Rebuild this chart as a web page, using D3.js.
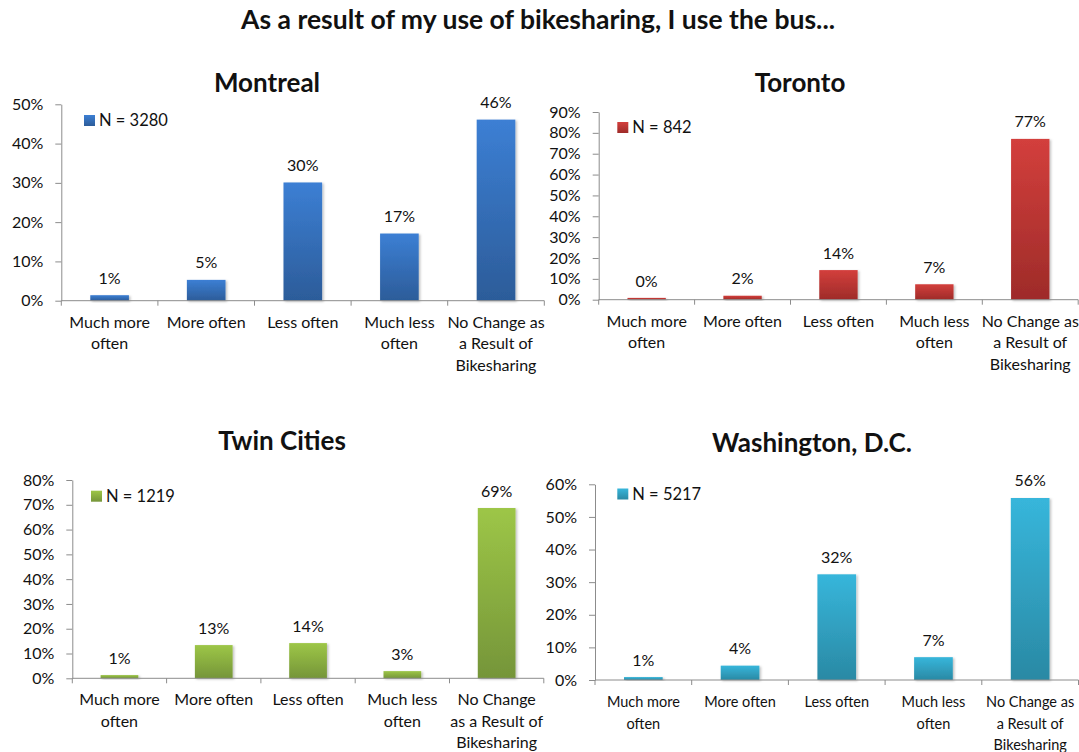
<!DOCTYPE html>
<html>
<head>
<meta charset="utf-8">
<script src="https://cdn.jsdelivr.net/npm/d3@7"></script>
<style>
  body { margin: 0; background: #fff; }
  text { font-family: Lato, "Open Sans", sans-serif; fill: #111; }
</style>
</head>
<body>
<script>
// categories and their wrapped labels
var categories = ["Much more often", "More often", "Less often", "Much less often",
                  "No Change as a Result of Bikesharing"];
var catLines = [["Much more", "often"], ["More often"], ["Less often"], ["Much less", "often"],
                ["No Change as", "a Result of", "Bikesharing"]];
var catLinesTwin = [["Much more", "often"], ["More often"], ["Less often"], ["Much less", "often"],
                    ["No Change", "as a Result of", "Bikesharing"]];

// percent of respondents
var montreal   = [1.4, 5.3, 30.1, 17.1, 46.1];
var toronto    = [0.4, 1.9, 14.2, 7.4, 77.1];
var twinCities = [1.3, 13.4, 14.2, 2.9, 68.7];
var washington = [0.9, 4.4, 32.4, 7.0, 55.8];

var sampleSizes = [3280, 842, 1219, 5217];
var yMaxes = [50, 90, 80, 60];

var width = 1079, height = 752;

var svg = d3.select("body").append("svg")
    .attr("width", width)
    .attr("height", height);

var defs = svg.append("defs");

// excel style vertical gradients
function addGradient(id, top, bottom) {
    var g = defs.append("linearGradient")
        .attr("id", id)
        .attr("x1", 0).attr("y1", 0).attr("x2", 0).attr("y2", 1);
    g.append("stop").attr("offset", "0%").attr("stop-color", top);
    g.append("stop").attr("offset", "100%").attr("stop-color", bottom);
}
addGradient("gBlue", "#3c7fd4", "#2c5c99");
addGradient("gRed", "#d33f3c", "#9e2b29");
addGradient("gGreen", "#9dc647", "#759539");
addGradient("gCyan", "#37b6db", "#2a89a4");

defs.append("filter").attr("id", "shadow")
    .attr("x", "-20%").attr("y", "-20%").attr("width", "150%").attr("height", "150%")
    .append("feDropShadow")
    .attr("dx", 1.5).attr("dy", 1).attr("stdDeviation", 1)
    .attr("flood-color", "#000").attr("flood-opacity", 0.25);

// main title
svg.append("text")
    .attr("x", 538)
    .attr("y", 29)
    .attr("text-anchor", "middle")
    .style("font-weight", "bold")
    .style("font-size", "26.5px")
    .text("As a result of my use of bikesharing, I use the bus...");

var panels = [
    {title: "Montreal", values: montreal, lines: catLines, fill: "gBlue",
     left: 61.3, right: 544.3, top: 104.3, bottom: 300.7,
     titleX: 267, titleY: 92, legendX: 84, legendY: 115, catSize: 16},
    {title: "Toronto", values: toronto, lines: catLines, fill: "gRed",
     left: 598.7, right: 1078.2, top: 112, bottom: 299.7,
     titleX: 800, titleY: 92, legendX: 617.3, legendY: 122, catSize: 16},
    {title: "Twin Cities", values: twinCities, lines: catLinesTwin, fill: "gGreen",
     left: 72.3, right: 543.8, top: 480, bottom: 678.3,
     titleX: 282, titleY: 450, legendX: 91, legendY: 490.7, catSize: 16},
    {title: "Washington, D.C.", values: washington, lines: catLines, fill: "gCyan",
     left: 595, right: 1078.5, top: 484.3, bottom: 680,
     titleX: 812, titleY: 452, legendX: 617.3, legendY: 488.5, catSize: 14.5}
];

var fmt = d3.format(".0%");
var axisColor = "#8c8c8c";

panels.forEach(function(p, pi) {
    var g = svg.append("g");

    var x = d3.scaleBand()
        .domain(categories)
        .range([p.left, p.right])
        .paddingInner(0.6)
        .paddingOuter(0.3);

    var y = d3.scaleLinear()
        .domain([0, yMaxes[pi]])
        .range([p.bottom, p.top]);

    // title
    g.append("text")
        .attr("x", p.titleX)
        .attr("y", p.titleY)
        .attr("text-anchor", "middle")
        .style("font-weight", "bold")
        .style("font-size", "26px")
        .text(p.title);

    // y axis
    var yAxis = g.append("g")
        .attr("transform", "translate(" + p.left + ",0)")
        .call(d3.axisLeft(y)
            .tickValues(d3.range(0, yMaxes[pi] + 1, 10))
            .tickFormat(function(d) { return d + "%"; })
            .tickSize(6)
            .tickSizeOuter(0)
            .tickPadding(12));
    yAxis.select(".domain").attr("stroke", axisColor);
    yAxis.selectAll(".tick line").attr("stroke", axisColor);
    yAxis.selectAll(".tick text")
        .style("font-size", "16px")
        .style("font-family", "Lato, sans-serif")
        .attr("fill", "#111");

    // bars
    g.selectAll(".bar")
        .data(p.values)
        .enter().append("rect")
        .attr("class", "bar")
        .attr("x", function(d, i) { return x(categories[i]); })
        .attr("width", x.bandwidth())
        .attr("y", function(d) { return Math.min(y(d), p.bottom - 1.8); })
        .attr("height", function(d) { return Math.max(1.8, p.bottom - y(d)); })
        .attr("fill", "url(#" + p.fill + ")")
        .attr("filter", "url(#shadow)");

    // x axis line and category ticks
    g.append("line")
        .attr("x1", p.left).attr("x2", p.right)
        .attr("y1", p.bottom).attr("y2", p.bottom)
        .attr("stroke", axisColor);
    g.selectAll(".ctick")
        .data(d3.range(categories.length + 1))
        .enter().append("line")
        .attr("x1", function(i) { return p.left + i * x.step(); })
        .attr("x2", function(i) { return p.left + i * x.step(); })
        .attr("y1", p.bottom).attr("y2", p.bottom + 5)
        .attr("stroke", axisColor);

    // value labels
    g.selectAll(".vlabel")
        .data(p.values)
        .enter().append("text")
        .attr("x", function(d, i) { return x(categories[i]) + x.bandwidth() / 2; })
        .attr("y", function(d) { return y(d) - 11.5; })
        .attr("text-anchor", "middle")
        .style("font-size", "16px")
        .text(function(d) { return fmt(d / 100); });

    // category labels
    var cl = g.selectAll(".clabel")
        .data(p.lines)
        .enter().append("text")
        .attr("text-anchor", "middle")
        .style("font-size", p.catSize + "px")
        .attr("transform", function(d, i) {
            return "translate(" + (x(categories[i]) + x.bandwidth() / 2) + "," + (p.bottom + 27) + ")";
        });
    cl.selectAll("tspan")
        .data(function(d) { return d; })
        .enter().append("tspan")
        .attr("x", 0)
        .attr("y", function(d, j) { return j * 21.5; })
        .text(function(d) { return d; });

    // legend
    g.append("rect")
        .attr("x", p.legendX).attr("y", p.legendY)
        .attr("width", 11).attr("height", 11)
        .attr("fill", "url(#" + p.fill + ")");
    g.append("text")
        .attr("x", p.legendX + 15)
        .attr("y", p.legendY + 11)
        .style("font-size", "16.5px")
        .text("N = " + sampleSizes[pi]);
});
</script>
</body>
</html>
